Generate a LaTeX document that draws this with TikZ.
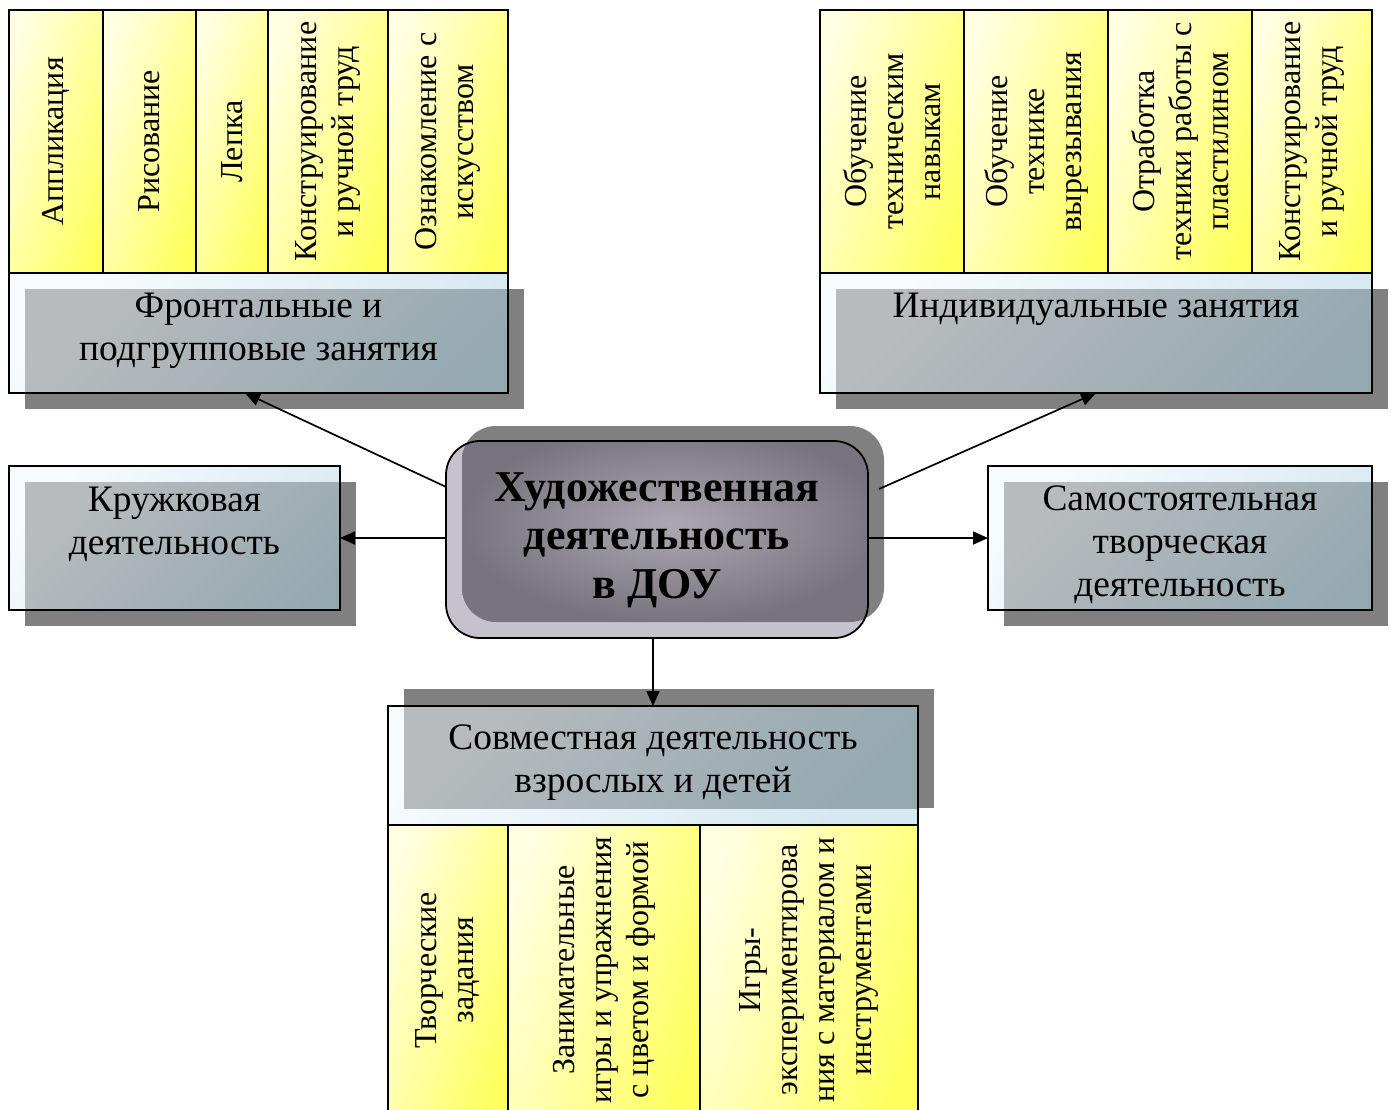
\documentclass[tikz,border=0pt]{standalone}
\usepackage{fontspec}
\setmainfont{Liberation Serif}
\usetikzlibrary{arrows.meta,calc}
\definecolor{shd}{HTML}{808080}
\definecolor{ylA}{HTML}{FFFFE2}
\definecolor{ylB}{HTML}{FFFF60}
\definecolor{lbA}{HTML}{F6FBFD}
\definecolor{lbB}{HTML}{D6E8EF}
\definecolor{gbA}{HTML}{B8BBBD}
\definecolor{gbB}{HTML}{95A9B1}
\definecolor{clA}{HTML}{C6C1CB}
\definecolor{ciA}{HTML}{ACA7B1}
\definecolor{ciB}{HTML}{78747E}
\newcommand{\vfnt}{\fontsize{32}{37}\selectfont}
\newcommand{\hfnt}{\fontsize{37.4}{43}\selectfont}
\newcommand{\tfnt}{\fontsize{44}{48.5}\selectfont\bfseries}
% shadowed header: x1 y1 x2 y2 dx dy
\newcommand{\myshbox}[6]{%
  \fill[shd] (#1+#5,#2+#6) rectangle (#3+#5,#4+#6);
  \shade[top color=lbA,bottom color=lbB,shading angle=45] (#1,#2) rectangle (#3,#4);
  \begin{scope}
    \clip (#1,#2) rectangle (#3,#4);
    \shade[top color=gbA,bottom color=gbB,shading angle=45] (#1+#5,#2+#6) rectangle (#3+#5,#4+#6);
  \end{scope}}
% yellow cell: x1 y1 x2 y2
\newcommand{\ycell}[4]{%
  \shade[top color=ylA,bottom color=ylB,shading angle=72] (#1,#2) rectangle (#3,#4);}
\begin{document}
\begin{tikzpicture}[x=1pt,y=-1pt,
  box/.style={draw=black,line width=1.8pt,inner sep=0pt,outer sep=0pt},
  vcell/.style={box,rotate=90,align=center,font=\vfnt},
  htext/.style={align=center,inner sep=0pt,font=\hfnt},
  arr/.style={line width=1.7pt,-{Triangle[length=15pt,width=13pt]}}]
\useasboundingbox (0,0) rectangle (1391,1109);
\clip (0,0) rectangle (1391,1109);
\fill[white] (0,0) rectangle (1391,1109);

% ---------- backgrounds ----------
\myshbox{9}{273}{508}{393}{16}{16}
\myshbox{820}{273}{1372}{393}{16}{16}
\myshbox{9}{466}{340}{610}{16}{16}
\myshbox{988}{466}{1372}{610}{16}{16}
\myshbox{388}{706}{918}{825}{16}{-17}
\ycell{9}{10}{103}{273}
\ycell{103}{10}{196}{273}
\ycell{196}{10}{268}{273}
\ycell{268}{10}{388}{273}
\ycell{388}{10}{508}{273}
\ycell{820}{10}{964}{273}
\ycell{964}{10}{1108}{273}
\ycell{1108}{10}{1252}{273}
\ycell{1252}{10}{1372}{273}
\ycell{388}{825}{508}{1115}
\ycell{508}{825}{700}{1115}
\ycell{700}{825}{918}{1115}

% centre rounded box
\fill[shd,rounded corners=34pt] (462,426) rectangle (884,622);
\fill[clA,rounded corners=34pt] (446,441) rectangle (868,638);
\begin{scope}
  \clip[rounded corners=34pt] (446,441) rectangle (868,638);
  \shade[inner color=ciA,outer color=ciB,rounded corners=34pt] (462,426) rectangle (884,622);
\end{scope}

% ---------- top-left group ----------
\node[vcell,minimum width=263pt,minimum height=94pt] (a1) at (56,141.5) {Аппликация};
\node[vcell,minimum width=263pt,minimum height=93pt] (a2) at (149.5,141.5) {Рисование};
\node[vcell,minimum width=263pt,minimum height=72pt] (a3) at (232,141.5) {Лепка};
\node[vcell,minimum width=263pt,minimum height=120pt] (a4) at (328,141.5) {Конструирование\\и ручной труд};
\node[vcell,minimum width=263pt,minimum height=120pt] (a5) at (448,141.5) {Ознакомление с\\искусством};
\node[box,minimum width=499pt,minimum height=120pt] (h1) at (258.5,333) {};
\node[htext] (h1t) at (258.5,331) {Фронтальные и\\подгрупповые занятия};

% ---------- top-right group ----------
\node[vcell,minimum width=263pt,minimum height=144pt] (b1) at (892,141.5) {Обучение\\техническим\\навыкам};
\node[vcell,minimum width=263pt,minimum height=144pt] (b2) at (1036,141.5) {Обучение\\технике\\вырезывания};
\node[vcell,minimum width=263pt,minimum height=144pt] (b3) at (1180,141.5) {Отработка\\техники работы с\\пластилином};
\node[vcell,minimum width=263pt,minimum height=120pt] (b4) at (1312,141.5) {Конструирование\\и ручной труд};
\node[box,minimum width=552pt,minimum height=120pt] (h2) at (1096,333) {};
\node[htext] (h2t) at (1096,309) {Индивидуальные занятия};

% ---------- side boxes ----------
\node[box,minimum width=331pt,minimum height=144pt] (lb) at (174.5,538) {};
\node[htext] (lbt) at (174.5,524) {Кружковая\\деятельность};
\node[box,minimum width=384pt,minimum height=144pt] (rb) at (1180,538) {};
\node[htext] (rbt) at (1180,545) {Самостоятельная\\творческая\\деятельность};

% ---------- centre ----------
\node[box,rounded corners=34pt,minimum width=422pt,minimum height=197pt] (c) at (657,539.5) {};
\node[align=center,inner sep=0pt,font=\tfnt] (ct) at (657,540) {Художественная\\деятельность\\в ДОУ};

% ---------- bottom group ----------
\node[box,minimum width=530pt,minimum height=119pt] (bh) at (653,765.5) {};
\node[htext] (bht) at (653,763) {Совместная деятельность\\взрослых и детей};
\node[vcell,minimum width=290pt,minimum height=120pt] (d1) at (448,970) {Творческие\\задания};
\node[vcell,minimum width=290pt,minimum height=192pt] (d2) at (604,970) {Занимательные\\игры и упражнения\\с цветом и формой};
\node[vcell,minimum width=290pt,minimum height=218pt] (d3) at (809,970) {Игры-\\экспериментирова\\ния с материалом и\\инструментами};

% ---------- connectors ----------
\draw[arr] (c.166.5) -- ($(h1.south)+(-13.5,0)$);
\draw[arr] ($(c.east)+(11,-50.5)$) -- (h2.south);
\draw[arr] (lb.east -| c.west) -- (lb.east);
\draw[arr] (rb.west -| c.east) -- (rb.west);
\draw[arr] (c.south -| bh.north) -- (bh.north);
\end{tikzpicture}
\end{document}
